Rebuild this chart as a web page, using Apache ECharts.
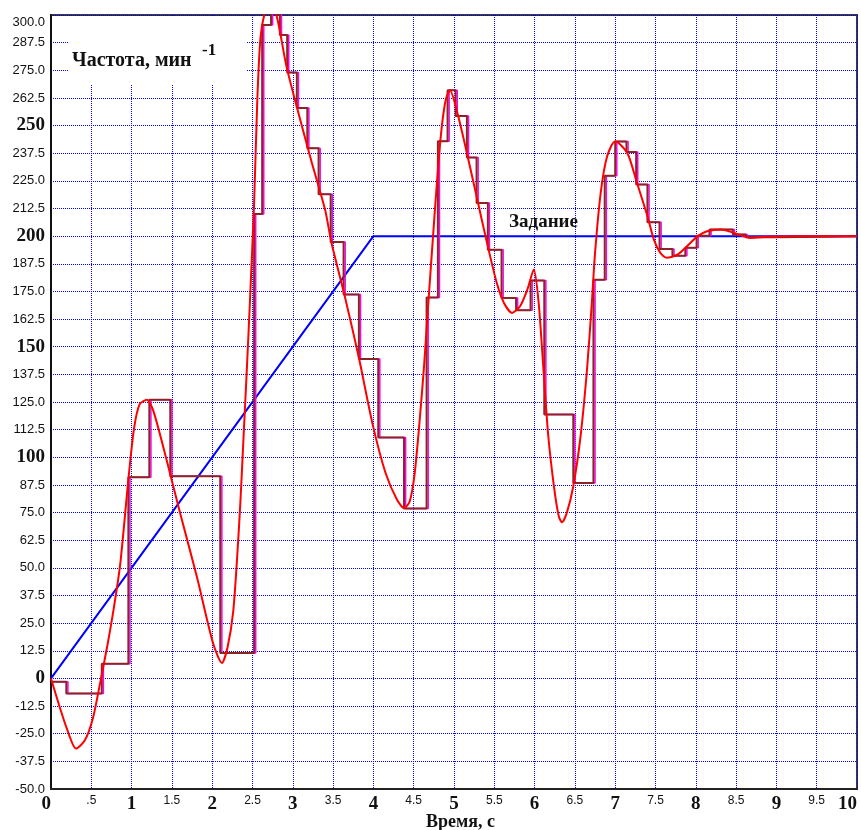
<!DOCTYPE html>
<html>
<head>
<meta charset="utf-8">
<script src="https://cdn.jsdelivr.net/npm/echarts@6/dist/echarts.min.js"></script>
<style>
html,body{margin:0;padding:0;background:#fff;}
#chart{width:861px;height:830px;}
</style>
</head>
<body>
<div id="chart"></div>
<script>
// ---- data ----
// Задание (set point)
const setT = [0, 4, 10];
const setV = [0, 200, 200];

// smooth measured speed (red)
const redT = [0,0.1,0.2,0.31,0.42,0.52,0.61,0.70,0.78,0.86,0.96,1.03,1.10,1.19,1.27,1.44,1.60,1.81,2.01,2.12,2.19,2.26,2.31,2.35,2.39,2.43,2.47,2.52,2.56,2.60,2.66,2.73,2.81,2.92,3.06,3.23,3.40,3.48,3.65,3.82,3.99,4.15,4.29,4.38,4.45,4.51,4.57,4.63,4.68,4.74,4.80,4.85,4.90,4.95,5.04,5.16,5.28,5.41,5.53,5.62,5.72,5.82,5.91,5.99,6.05,6.11,6.17,6.24,6.30,6.34,6.40,6.48,6.57,6.65,6.71,6.75,6.82,6.90,7.00,7.15,7.27,7.40,7.48,7.56,7.64,7.77,7.89,8.02,8.14,8.31,8.47,8.68,8.88,9.20,10];
const redV = [0,-12,-23,-31.7,-28,-18,-2,15,32,52,90,113,124,126,121,98,75,46,16,7,14,30,55,80,110,140,172,215,262,290,302,306,298,277,257,234,212,197,172,145,115,93,81,77,80,92,115,142,169,200,230,250,262,266,256,237.6,218,196.9,178.9,169.8,165.3,168.3,175.8,184.9,170,139.6,109.5,86.9,73.3,70.6,74.9,86.9,109.5,139.6,169.8,192.4,219.6,236.1,242.9,237.6,224.1,209,198.4,192.4,190.2,191.6,195.4,199.9,202.2,203,201.5,199.2,199.7,200,200];

// sampled speed (dark red steps)
const brownT = [0,0.19,0.63,0.96,1.22,1.48,2.10,2.52,2.62,2.73,2.84,2.93,3.05,3.18,3.32,3.47,3.63,3.82,4.06,4.38,4.66,4.80,4.92,5.02,5.16,5.28,5.42,5.59,5.77,5.95,6.12,6.48,6.73,6.87,7.00,7.14,7.26,7.40,7.55,7.71,7.87,8.01,8.17,8.46,8.62,9.01,10];
const brownV = [-1.5,-6.8,6.6,91,126,91.4,11.5,210,295.5,305,291,274,258,239.7,219,197.4,173.6,144.4,109,76.8,172.2,242.9,266,254.3,235.6,215,193.9,172,166.5,179.9,119.3,88.4,180.3,227.3,242.8,238.1,223.3,206.3,194.2,191.1,194.7,200.2,203,200.7,199.5,200,200];

// second sampled trace (magenta steps, slightly later)
const magT = [0,0.21,0.65,0.98,1.24,1.50,2.12,2.54,2.64,2.75,2.86,2.95,3.07,3.20,3.34,3.49,3.65,3.84,4.08,4.40,4.68,4.82,4.94,5.04,5.18,5.30,5.44,5.61,5.79,5.97,6.14,6.50,6.75,6.89,7.02,7.16,7.28,7.42,7.57,7.73,7.89,8.03,8.19,8.48,8.64,9.03,10];
const magV = [-1.5,-6.8,6.6,91,126,91.4,11.5,210,295.5,305,291,274,258,239.7,219,197.4,173.6,144.4,109,76.8,172.2,242.9,266,254.3,235.6,215,193.9,172,166.5,179.9,119.3,88.4,180.3,227.3,242.8,238.1,223.3,206.3,194.2,191.1,194.7,200.2,203,200.7,199.5,200,200];

// tick labels
const xTickLabels = ['0','.5','1','1.5','2','2.5','3','3.5','4','4.5','5','5.5','6','6.5','7','7.5','8','8.5','9','9.5','10'];
const yTickLabels = ['-50.0','-37.5','-25.0','-12.5','0','12.5','25.0','37.5','50.0','62.5','75.0','87.5','100','112.5','125.0','137.5','150','162.5','175.0','187.5','200','212.5','225.0','237.5','250','262.5','275.0','287.5','300.0'];

const yTitle = 'Частота, мин';
const yTitleSup = '-1';
const xTitle = 'Время, с';
const setLabel = 'Задание';

// ---- chart ----
const pairs = (a, b) => a.map((t, i) => [t, b[i]]);
const chart = echarts.init(document.getElementById('chart'), null, {renderer: 'canvas'});
const serif = '"Liberation Serif", "DejaVu Serif", serif';
const sans = '"Liberation Sans", Arial, sans-serif';
const gridLine = {show: true, lineStyle: {color: '#0000ff', type: [1, 1], width: 1, opacity: 1}};

chart.setOption({
  animation: false,
  backgroundColor: '#ffffff',
  grid: {left: 51, right: 4, top: 15, bottom: 41, show: true, borderColor: '#3a3a3a', borderWidth: 2, backgroundColor: 'transparent'},
  xAxis: {
    type: 'value', min: 0, max: 10, interval: 0.5,
    axisLine: {show: true, onZero: false, lineStyle: {color: '#222', width: 2}},
    axisTick: {show: false},
    splitLine: gridLine,
    axisLabel: {
      margin: 4,
      alignMinLabel: 'right', alignMaxLabel: 'right',
      formatter: function (v) {
        const s = xTickLabels[Math.round(v / 0.5)];
        return s.indexOf('.') >= 0 ? '{s|' + s + '}' : '{b|' + s + '}';
      },
      rich: {
        s: {fontFamily: sans, fontSize: 12, color: '#111', lineHeight: 15, padding: [1, 0, 0, 0]},
        b: {fontFamily: serif, fontSize: 19, fontWeight: 'bold', color: '#111', lineHeight: 23}
      }
    }
  },
  yAxis: {
    type: 'value', min: -50, max: 300, interval: 12.5,
    axisLine: {show: true, onZero: false, lineStyle: {color: '#111', width: 2}},
    axisTick: {show: false},
    splitLine: gridLine,
    axisLabel: {
      margin: 6,
      formatter: function (v) {
        const s = yTickLabels[Math.round((v + 50) / 12.5)];
        if (s === '300.0') return '{t|' + s + '}';
        return s.indexOf('.') >= 0 ? '{s|' + s + '}' : '{b|' + s + '}';
      },
      rich: {
        s: {fontFamily: sans, fontSize: 13, color: '#111'},
        t: {fontFamily: sans, fontSize: 13, color: '#111', padding: [14, 0, 0, 0]},
        b: {fontFamily: serif, fontSize: 19, fontWeight: 'bold', color: '#111'}
      }
    }
  },
  graphic: [
    {type: 'rect', z: 1, shape: {x: 68, y: 17, width: 178, height: 67}, style: {fill: '#ffffff'}},
    {type: 'text', z: 10, x: 72, y: 61, style: {text: yTitle, font: 'bold 20px ' + serif, fill: '#111', textVerticalAlign: 'middle'}},
    {type: 'text', z: 10, x: 202, y: 51, style: {text: yTitleSup, font: 'bold 17px ' + serif, fill: '#111', textVerticalAlign: 'middle'}},
    {type: 'text', z: 10, x: 509, y: 222, style: {text: setLabel, font: 'bold 19px ' + serif, fill: '#111', textVerticalAlign: 'middle'}},
    {type: 'text', z: 10, x: 426, y: 822, style: {text: xTitle, font: 'bold 18px ' + serif, fill: '#111', textVerticalAlign: 'middle'}}
  ],
  series: [
    {type: 'line', name: 'Задание', data: pairs(setT, setV), symbol: 'none', lineStyle: {color: '#0000ff', width: 2}},
    {type: 'line', name: 'magenta', data: pairs(magT, magV), step: 'end', symbol: 'none', lineStyle: {color: '#ff00ff', width: 1.5}},
    {type: 'line', name: 'steps', data: pairs(brownT, brownV), step: 'end', symbol: 'none', lineStyle: {color: '#8b2525', width: 2}},
    {type: 'line', name: 'speed', data: pairs(redT, redV), smooth: 0.25, symbol: 'none', lineStyle: {color: '#ff0000', width: 2}}
  ]
});
</script>
</body>
</html>
